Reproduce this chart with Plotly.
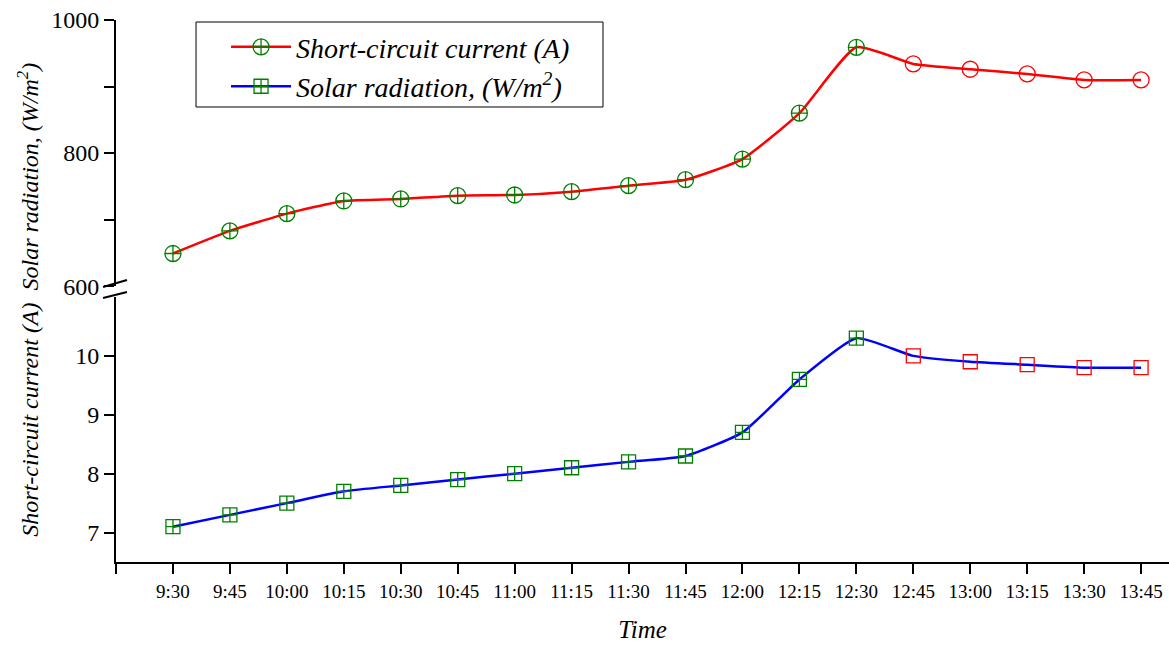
import plotly.graph_objects as go

times = ["9:30", "9:45", "10:00", "10:15", "10:30", "10:45", "11:00", "11:15", "11:30",
         "11:45", "12:00", "12:15", "12:30", "12:45", "13:00", "13:15", "13:30", "13:45"]
solar_radiation = [649, 683, 709, 728, 731, 736, 737, 742, 751, 760, 791, 860, 959,
                   934, 926, 919, 910, 910]
short_circuit_current = [7.1, 7.3, 7.5, 7.7, 7.8, 7.9, 8.0, 8.1, 8.2, 8.3, 8.7, 9.6, 10.3,
                         10.0, 9.9, 9.85, 9.8, 9.8]
n_green = 13

xs = list(range(len(times)))
mcolors = ["green"] * n_green + ["red"] * (len(times) - n_green)
circ_sym = ["circle-cross-open"] * n_green + ["circle-open"] * (len(times) - n_green)
sq_sym = ["square-cross-open"] * n_green + ["square-open"] * (len(times) - n_green)

FONT = "Times New Roman, Liberation Serif, serif"

fig = go.Figure()
fig.add_trace(go.Scatter(
    x=xs, y=solar_radiation, mode="lines+markers", name="<i>Short-circuit current (A)</i>",
    line=dict(color="red", width=2.5, shape="spline", smoothing=0.5),
    marker=dict(symbol=circ_sym, color=mcolors, size=16, line=dict(width=1.3, color=mcolors)),
    xaxis="x2", yaxis="y2"))
fig.add_trace(go.Scatter(
    x=xs, y=short_circuit_current, mode="lines+markers",
    name="<i>Solar radiation, (W/m<sup>2</sup>)</i>",
    line=dict(color="blue", width=2.5, shape="spline", smoothing=0.5),
    marker=dict(symbol=sq_sym, color=mcolors, size=14, line=dict(width=1.3, color=mcolors)),
    xaxis="x", yaxis="y"))

xr = [-1, 17.49]
tickvals_x = list(range(-1, len(times)))
ticktext_x = [""] + times

fig.update_layout(
    width=1169, height=645,
    margin=dict(l=116, r=0, t=20, b=83, autoexpand=False),
    paper_bgcolor="white", plot_bgcolor="white",
    font=dict(family=FONT, color="black"),
    showlegend=True,
    legend=dict(x=0.1045, y=0.996, xanchor="left", yanchor="top",
                borderwidth=0, bgcolor="rgba(0,0,0,0)", itemwidth=60,
                font=dict(family=FONT, size=28), tracegroupgap=0),
    xaxis=dict(domain=[0, 1], range=xr, tickmode="array", tickvals=tickvals_x,
               ticktext=ticktext_x, showline=True, linecolor="black", linewidth=2,
               ticks="outside", ticklen=10, tickwidth=2, tickcolor="black",
               showgrid=False, zeroline=False, tickfont=dict(family=FONT, size=19),
               ticklabelstandoff=1, automargin=False,
               title=dict(text="<i>Time</i>", font=dict(family=FONT, size=25), standoff=20),
               anchor="y"),
    xaxis2=dict(domain=[0, 1], range=xr, visible=False, anchor="y2", automargin=False),
    yaxis=dict(domain=[0, 0.489], range=[6.5, 11], tickvals=[7, 8, 9, 10],
               showline=True, linecolor="black", linewidth=2, ticks="outside",
               ticklen=10, tickwidth=2, tickcolor="black", showgrid=False,
               zeroline=False, tickfont=dict(family=FONT, size=24), anchor="x",
               automargin=False),
    yaxis2=dict(domain=[0.509, 1], range=[600, 1000],
                tickvals=[600, 700, 800, 900, 1000],
                ticktext=["600", "", "800", "", "1000"],
                showline=True, linecolor="black", linewidth=2, ticks="outside",
                ticklen=10, tickwidth=2, tickcolor="black", showgrid=False,
                zeroline=False, tickfont=dict(family=FONT, size=24), anchor="x2",
                automargin=False),
)

# legend frame
fig.add_shape(type="rect", xref="paper", yref="paper",
              x0=0.076, x1=0.4625, y0=0.8395, y1=0.9963,
              line=dict(color="black", width=1), fillcolor="white", layer="above")

# y-axis title spanning both panels
fig.add_annotation(
    text="<i>Short-circuit current (A)  Solar radiation, (W/m<sup>2</sup>)</i>",
    x=-0.0836, y=0.484, xref="paper", yref="paper", textangle=-90,
    showarrow=False, font=dict(family=FONT, size=24), xanchor="center", yanchor="middle")

# axis break marks
for y0, y1 in [(0.5074, 0.5203), (0.487, 0.498)]:
    fig.add_shape(type="line", xref="paper", yref="paper",
                  x0=-0.0123, x1=0.0104, y0=y0, y1=y1,
                  line=dict(color="black", width=2))

fig.write_html("out.html", config={"displayModeBar": False},
               post_script="document.body.style.margin='0';")
